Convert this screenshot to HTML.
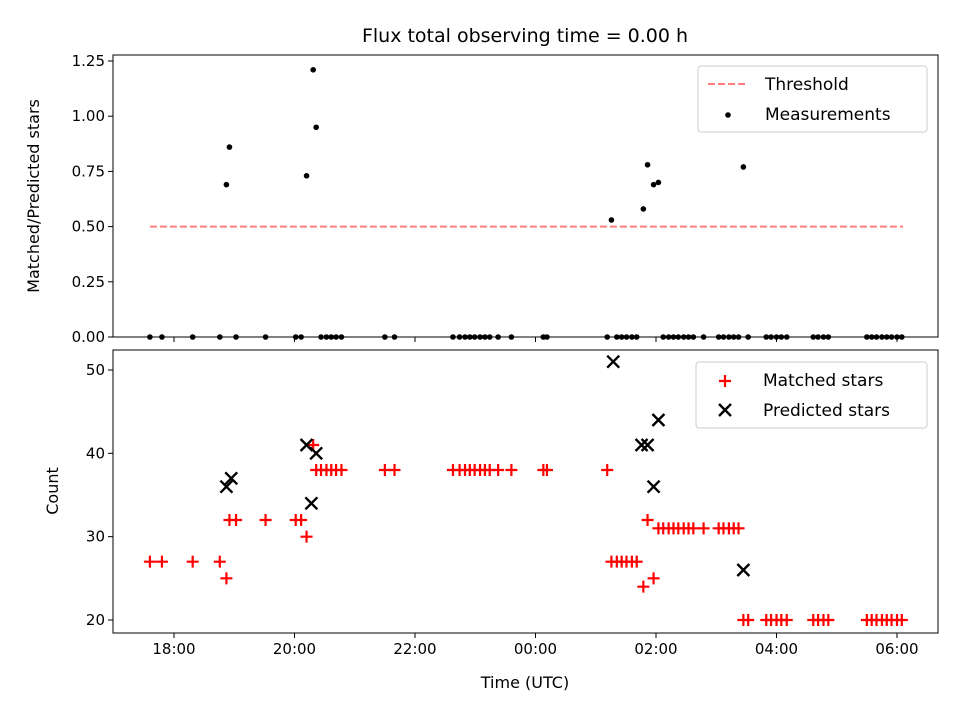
<!DOCTYPE html>
<html><head><meta charset="utf-8"><style>
body{margin:0;background:#fff;}
svg{display:block;font-family:"DejaVu Sans","Liberation Sans",sans-serif;}
</style></head><body>
<svg id="chart" width="960" height="720" viewBox="0 0 960 720" xmlns="http://www.w3.org/2000/svg">
<rect width="960" height="720" fill="#fff"/>
<text x="525" y="42" text-anchor="middle" font-size="19">Flux total observing time = 0.00 h</text>
<g id="gtop"></g><g id="gbot"></g>
</svg>
<script>
// data (times in hours; >24 means next day)
const matchTimes=[17.60,17.80,18.31,18.76,18.87,18.92,19.03,19.52,20.02,20.11,20.20,20.31,20.36,20.44,20.53,20.61,20.69,20.78,21.50,21.66,22.63,22.74,22.83,22.91,22.99,23.08,23.16,23.24,23.38,23.60,24.13,24.19,25.19,25.26,25.35,25.43,25.51,25.60,25.68,25.79,25.86,25.96,26.04,26.12,26.21,26.29,26.37,26.46,26.54,26.62,26.79,27.04,27.12,27.21,27.29,27.37,27.45,27.53,27.83,27.91,28.00,28.08,28.17,28.61,28.69,28.78,28.86,29.50,29.58,29.66,29.75,29.83,29.91,30.00,30.08];
const matchCounts=[27,27,27,27,25,32,32,32,32,32,30,41,38,38,38,38,38,38,38,38,38,38,38,38,38,38,38,38,38,38,38,38,38,27,27,27,27,27,27,24,32,25,31,31,31,31,31,31,31,31,31,31,31,31,31,31,20,20,20,20,20,20,20,20,20,20,20,20,20,20,20,20,20,20,20];
const ratioValues=[0,0,0,0,0.69,0.86,0,0,0,0,0.73,1.21,0.95,0,0,0,0,0,0,0,0,0,0,0,0,0,0,0,0,0,0,0,0,0.53,0,0,0,0,0,0.58,0.78,0.69,0.70,0,0,0,0,0,0,0,0,0,0,0,0,0,0.77,0,0,0,0,0,0,0,0,0,0,0,0,0,0,0,0,0,0];
const predTimes=[18.87,18.95,20.20,20.28,20.36,25.29,25.76,25.86,25.96,26.04,27.45];
const predCounts=[36,37,41,34,40,51,41,41,36,44,26];
const xTickHours=[18,20,22,24,26,28,30];
const xTickLabels=["18:00","20:00","22:00","00:00","02:00","04:00","06:00"];
const topTicks=[0,0.25,0.5,0.75,1.0,1.25];
const topTickLabels=["0.00","0.25","0.50","0.75","1.00","1.25"];
const botTicks=[20,30,40,50];
const threshold=0.5;
const thrRange=[17.6,30.1];

const NS="http://www.w3.org/2000/svg";
const L=113,R=938;
const xs=h=>174+(h-18)*60.25;
const ysT=v=>337-v*220.8;
const ysB=v=>620-(v-20)*250/30;
function mk(p,tag,a){const e=document.createElementNS(NS,tag);for(const k in a)e.setAttribute(k,a[k]);p.appendChild(e);return e;}
const gTop=document.getElementById('gtop'),gBot=document.getElementById('gbot');

const th=mk(gTop,'line',{x1:xs(thrRange[0]),x2:xs(thrRange[1]),y1:ysT(threshold),y2:ysT(threshold),stroke:'#ff7f7f','stroke-width':2,'stroke-dasharray':'7,3'});


matchTimes.forEach((t,i)=>{
 const c=mk(gTop,'circle',{cx:xs(t),cy:ysT(ratioValues[i]),r:2.8,fill:'#000'});
 
 
});
matchTimes.forEach((t,i)=>{
 const x=xs(t),y=ysB(matchCounts[i]);
 const p=mk(gBot,'path',{d:`M${x-6},${y}H${x+6}M${x},${y-6}V${y+6}`,stroke:'#f00','stroke-width':2.2});
 
 
});
predTimes.forEach((t,i)=>{
 const x=xs(t),y=ysB(predCounts[i]);
 const p=mk(gBot,'path',{d:`M${x-6},${y-6}L${x+6},${y+6}M${x-6},${y+6}L${x+6},${y-6}`,stroke:'#000','stroke-width':2.4});
 
 
});
[[gTop,55,337],[gBot,350,633]].forEach(([g,t,b],k)=>{
 const f=mk(g,'rect',{x:L,y:t,width:R-L,height:b-t,fill:'none',stroke:'#000','stroke-width':1});
 
 
 xTickHours.forEach((h,i)=>{
  const tk=mk(g,'line',{x1:xs(h),x2:xs(h),y1:b,y2:b+5,stroke:'#000'});
  
  
  if(k){const tx=mk(g,'text',{x:xs(h),y:b+21,'text-anchor':'middle','font-size':15});tx.textContent=xTickLabels[i];
   
   }
 });
});
topTicks.forEach((v,i)=>{
 const tk=mk(gTop,'line',{x1:L-5,x2:L,y1:ysT(v),y2:ysT(v),stroke:'#000'});
 
 
 const tx=mk(gTop,'text',{x:L-8,y:ysT(v)+5,'text-anchor':'end','font-size':15});tx.textContent=topTickLabels[i];
 
 
});
botTicks.forEach(v=>{
 const tk=mk(gBot,'line',{x1:L-5,x2:L,y1:ysB(v),y2:ysB(v),stroke:'#000'});
 
 
 const tx=mk(gBot,'text',{x:L-8,y:ysB(v)+5,'text-anchor':'end','font-size':15});tx.textContent=String(v);
 
 
});
</script>
<svg style="position:absolute;left:0;top:0" width="960" height="720" xmlns="http://www.w3.org/2000/svg" font-family="DejaVu Sans, Liberation Sans, sans-serif">
<text transform="translate(39,196) rotate(-90)" text-anchor="middle" font-size="16">Matched/Predicted stars</text>
<text transform="translate(58,491) rotate(-90)" text-anchor="middle" font-size="16">Count</text>
<text x="525" y="688" text-anchor="middle" font-size="16">Time (UTC)</text>
<g>
<rect x="698" y="66" width="229" height="66" rx="3" fill="#fff" fill-opacity="0.8" stroke="#ccc"/>
<line x1="708" x2="748" y1="84" y2="84" stroke="#ff7f7f" stroke-width="2" stroke-dasharray="7,3"/>
<text x="765" y="90" font-size="17">Threshold</text>
<circle cx="728" cy="115" r="2.8" fill="#000"/>
<text x="765" y="120" font-size="17">Measurements</text>
</g>
<g>
<rect x="696" y="362" width="231" height="66" rx="3" fill="#fff" fill-opacity="0.8" stroke="#ccc"/>
<path d="M719,381H731M725,375V387" stroke="#f00" stroke-width="2.2"/>
<text x="763" y="386" font-size="17">Matched stars</text>
<path d="M719,404L731,416M719,416L731,404" stroke="#000" stroke-width="2.4"/>
<text x="763" y="416" font-size="17">Predicted stars</text>
</g>
</svg>
</body></html>
